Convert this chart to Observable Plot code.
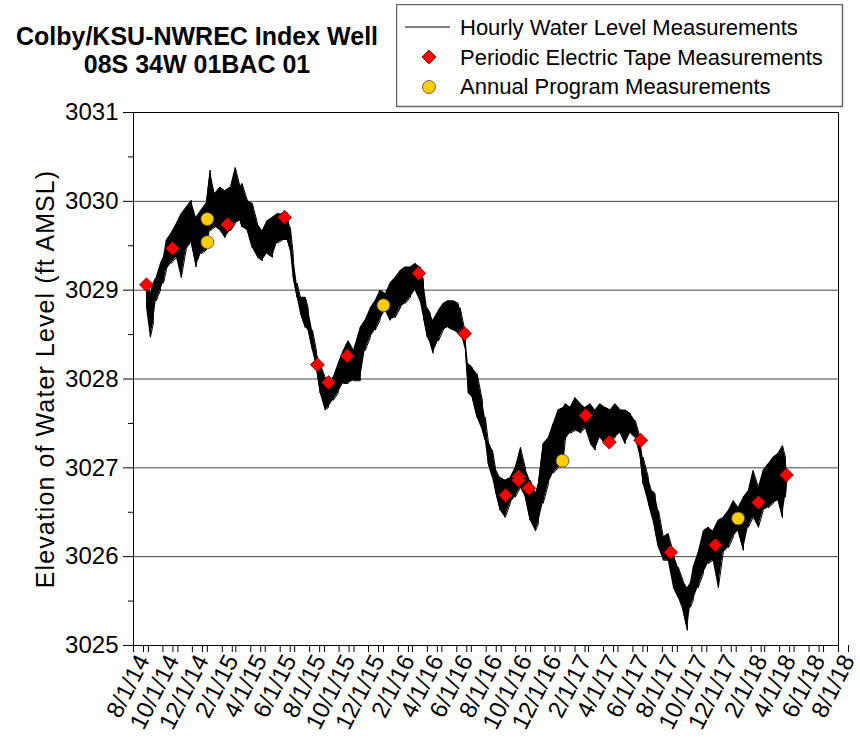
<!DOCTYPE html>
<html><head><meta charset="utf-8">
<script src="https://cdn.jsdelivr.net/npm/d3@7"></script>
<script src="https://cdn.jsdelivr.net/npm/@observablehq/plot@0.6"></script>
<style>
body{margin:0;background:#fff;}
#wrap{position:relative;width:860px;height:740px;font-family:Arial,"Liberation Sans",sans-serif;}
#chart{position:absolute;left:0;top:0;}
#title{position:absolute;left:0;width:394px;top:22px;text-align:center;font-weight:bold;font-size:25px;line-height:28px;color:#000;}
#legend{position:absolute;left:396px;top:4px;}
</style>
</head><body>
<div id="wrap">
  <div id="chart"></div>
  <div id="title">Colby/KSU-NWREC Index Well<br>08S 34W 01BAC 01</div>
  <svg id="legend" width="448" height="104"></svg>
</div>
<script>
const chartTitle = ["Colby/KSU-NWREC Index Well", "08S 34W 01BAC 01"];
const yLabel = "Elevation of Water Level (ft AMSL)";
const legendLabels = ["Hourly Water Level Measurements", "Periodic Electric Tape Measurements", "Annual Program Measurements"];

const hourlyDates = [
"2014-08-28","2014-09-05","2014-09-11","2014-09-17","2014-09-26","2014-10-02","2014-10-08","2014-10-18","2014-10-29","2014-11-08","2014-11-18","2014-11-29","2014-12-09","2014-12-19","2014-12-30",
"2015-01-07","2015-01-17","2015-01-28","2015-02-07","2015-02-18","2015-02-28","2015-03-10","2015-03-14","2015-03-25","2015-04-04","2015-04-15","2015-04-25","2015-05-05","2015-05-16","2015-05-26","2015-06-05","2015-06-16","2015-06-22","2015-06-28","2015-07-06","2015-07-13","2015-07-23","2015-07-29","2015-08-07","2015-08-15","2015-08-23","2015-09-02","2015-09-09","2015-09-19","2015-09-29","2015-10-10","2015-10-20","2015-10-31","2015-11-14","2015-11-24","2015-12-05","2015-12-15","2015-12-25",
"2016-01-05","2016-01-15","2016-01-25","2016-02-05","2016-02-15","2016-02-26","2016-03-07","2016-03-17","2016-03-24","2016-04-01","2016-04-07","2016-04-13","2016-04-24","2016-05-04","2016-05-14","2016-05-25","2016-06-04","2016-06-08","2016-06-19","2016-06-25","2016-07-03","2016-07-13","2016-07-24","2016-07-30","2016-08-05","2016-08-14","2016-08-20","2016-08-30","2016-09-09","2016-09-20","2016-09-30","2016-10-11","2016-10-21","2016-10-31","2016-11-11","2016-11-17","2016-11-27","2016-12-08","2016-12-18","2016-12-28",
"2017-01-08","2017-01-12","2017-01-22","2017-02-01","2017-02-12","2017-02-22","2017-03-05","2017-03-15","2017-03-25","2017-04-05","2017-04-15","2017-04-25","2017-05-06","2017-05-16","2017-05-27","2017-06-06","2017-06-16","2017-06-22","2017-07-03","2017-07-11","2017-07-17","2017-07-24","2017-08-03","2017-08-13","2017-08-24","2017-09-03","2017-09-13","2017-09-22","2017-09-28","2017-10-04","2017-10-14","2017-10-25","2017-11-04","2017-11-14","2017-11-25","2017-12-05","2017-12-16","2017-12-26",
"2018-01-05","2018-01-16","2018-01-26","2018-02-05","2018-02-16","2018-02-26","2018-03-09","2018-03-19","2018-03-29","2018-04-07","2018-04-13","2018-04-17"];

const hourlyHigh = [
3029.08,3028.96,3029.08,3029.14,3029.30,3029.37,3029.56,3029.64,3029.75,3029.86,3029.93,3030.01,3029.82,3029.90,3029.98,
3030.35,3030.09,3030.16,3030.12,3030.16,3030.38,3030.16,3030.20,3030.01,3029.98,3029.75,3029.67,3029.78,3029.82,3029.86,3029.86,3029.87,3029.71,3029.41,3029.08,3028.92,3028.92,3028.80,3028.55,3028.32,3028.17,3028.02,3027.98,3028.02,3028.17,3028.32,3028.43,3028.32,3028.58,3028.66,3028.80,3028.88,3029.00,
3028.96,3029.08,3029.14,3029.22,3029.26,3029.26,3029.30,3029.26,3029.11,3028.80,3028.74,3028.66,3028.77,3028.85,3028.88,3028.88,3028.85,3028.80,3028.51,3028.17,3028.13,3028.06,3027.76,3027.57,3027.31,3027.20,3027.00,3026.89,3026.86,3026.89,3027.00,3027.23,3027.00,3026.86,3026.71,3026.82,3027.27,3027.34,3027.50,3027.65,
3027.68,3027.72,3027.68,3027.79,3027.72,3027.68,3027.72,3027.65,3027.72,3027.68,3027.65,3027.72,3027.65,3027.65,3027.61,3027.53,3027.34,3027.12,3026.89,3026.74,3026.71,3026.52,3026.22,3026.26,3026.04,3025.88,3025.73,3025.65,3025.70,3025.88,3026.04,3026.29,3026.33,3026.29,3026.41,3026.44,3026.52,3026.63,
3026.55,3026.67,3026.74,3026.97,3026.78,3026.97,3027.05,3027.12,3027.16,3027.25,3027.12,3026.97];

const hourlyLow = [
3028.80,3028.47,3028.62,3028.88,3029.00,3029.08,3029.22,3029.30,3029.37,3029.14,3029.45,3029.53,3029.26,3029.41,3029.45,
3029.67,3029.71,3029.67,3029.59,3029.67,3029.75,3029.78,3029.71,3029.67,3029.48,3029.37,3029.33,3029.41,3029.37,3029.53,3029.56,3029.56,3029.45,3029.14,3028.92,3028.74,3028.58,3028.55,3028.32,3028.13,3027.84,3027.65,3027.68,3027.76,3027.84,3027.95,3027.95,3027.98,3027.98,3028.32,3028.47,3028.55,3028.66,
3028.77,3028.66,3028.69,3028.80,3028.85,3028.92,3029.00,3028.88,3028.69,3028.47,3028.40,3028.29,3028.43,3028.55,3028.58,3028.55,3028.51,3028.55,3028.32,3027.84,3027.79,3027.57,3027.42,3027.31,3027.05,3026.89,3026.74,3026.52,3026.44,3026.60,3026.67,3026.78,3026.67,3026.41,3026.29,3026.37,3026.60,3026.82,3026.94,3027.00,
3027.12,3027.31,3027.39,3027.42,3027.39,3027.45,3027.27,3027.20,3027.34,3027.27,3027.27,3027.34,3027.39,3027.27,3027.39,3027.34,3027.12,3026.82,3026.60,3026.44,3026.29,3026.10,3025.96,3025.96,3025.65,3025.54,3025.39,3025.17,3025.43,3025.51,3025.65,3025.81,3025.92,3025.96,3025.65,3026.04,3026.10,3026.22,
3026.29,3026.07,3026.33,3026.44,3026.33,3026.52,3026.55,3026.60,3026.63,3026.44,3026.67,3026.91];

const tapeDates = ["2014-08-28","2014-10-21","2015-02-12","2015-06-10","2015-08-17","2015-09-09","2015-10-18","2016-03-14","2016-06-17","2016-09-10","2016-10-07","2016-10-07","2016-10-28","2017-02-23","2017-04-13","2017-06-17","2017-08-18","2017-11-19","2018-02-16","2018-04-15"];
const tapeLevels = [3029.06,3029.47,3029.74,3029.82,3028.16,3027.96,3028.26,3029.19,3028.51,3026.69,3026.90,3026.86,3026.77,3027.59,3027.29,3027.31,3026.05,3026.13,3026.61,3026.92];

const annualDates = ["2015-01-01","2015-01-01","2016-01-01","2017-01-06","2018-01-05"];
const annualLevels = [3029.80,3029.54,3028.83,3027.08,3026.43];

const xLabelDates = ["2014-08-01","2014-10-01","2014-12-01","2015-02-01","2015-04-01","2015-06-01","2015-08-01","2015-10-01","2015-12-01","2016-02-01","2016-04-01","2016-06-01","2016-08-01","2016-10-01","2016-12-01","2017-02-01","2017-04-01","2017-06-01","2017-08-01","2017-10-01","2017-12-01","2018-02-01","2018-04-01","2018-06-01","2018-08-01"];
const yTicks = [3025,3026,3027,3028,3029,3030,3031];
const yMinorTicks = [3025.5,3026.5,3027.5,3028.5,3029.5,3030.5];

const parse = s => new Date(s + "T00:00:00Z");
const hourly = hourlyDates.map((d, i) => ({date: parse(d), lo: hourlyLow[i], hi: hourlyHigh[i]}));
const zig = [];
hourly.forEach((r, i) => {
  if (i % 2 === 0) { zig.push({date: r.date, v: r.lo}); zig.push({date: r.date, v: r.hi}); }
  else { zig.push({date: r.date, v: r.hi}); zig.push({date: r.date, v: r.lo}); }
});
const tape = tapeDates.map((d, i) => ({date: parse(d), v: tapeLevels[i]}));
const annual = annualDates.map((d, i) => ({date: parse(d), v: annualLevels[i]}));
const xStart = parse(xLabelDates[0]), xEnd = parse(xLabelDates[xLabelDates.length - 1]);
const xMonthly = d3.utcMonth.range(xStart, d3.utcDay.offset(xEnd, 1));
const fmt = d => `${d.getUTCMonth() + 1}/${d.getUTCDate()}/${String(d.getUTCFullYear()).slice(2)}`;
const font = 'Arial, "Liberation Sans", sans-serif';

const chart = Plot.plot({
  width: 860, height: 740,
  marginTop: 112, marginLeft: 133, marginRight: 22, marginBottom: 95,
  style: {fontFamily: font, fontSize: "24px", color: "#000", background: "transparent", overflow: "visible"},
  x: {type: "utc", domain: [xStart, xEnd]},
  y: {domain: [3025, 3031]},
  marks: [
    Plot.gridY(yTicks.slice(1, -1), {stroke: "#444", strokeOpacity: 1, strokeWidth: 1}),
    Plot.areaY(hourly, {x: "date", y1: "lo", y2: "hi", fill: "#000"}),
    Plot.line(zig, {x: "date", y: "v", stroke: "#000", strokeWidth: 1}),
    Plot.frame({stroke: "#000", strokeWidth: 1}),
    Plot.axisY(yTicks, {tickSize: 10, tickPadding: 5, fontSize: 24, tickFormat: d => String(d),
      label: yLabel, labelAnchor: "center", labelOffset: 97, labelArrow: "none"}),
    Plot.axisY(yMinorTicks, {tickSize: 5, tickFormat: () => "", label: null}),
    Plot.axisX(xMonthly, {tickSize: 7, tickFormat: () => "", label: null}),
    Plot.axisX(xLabelDates.map(parse), {tickSize: 7, tickPadding: 4, tickRotate: -63, fontSize: 24, tickFormat: fmt, label: null, dx: 10}),
    Plot.dot(tape, {x: "date", y: "v", symbol: "diamond2", r: 6.3, fill: "#ff0000", stroke: "#5a0000", strokeWidth: 0.8}),
    Plot.dot(annual, {x: "date", y: "v", symbol: "circle", r: 6.5, fill: "#ffcc00", stroke: "#444", strokeWidth: 0.8})
  ]
});
document.getElementById("chart").appendChild(chart);
d3.select(chart).selectAll('g[aria-label="y-axis label"] text').style("font-size", "25px").style("letter-spacing", "1.1px");

// legend
const lg = d3.select("#legend");
lg.append("rect").attr("x", 0.5).attr("y", 0.5).attr("width", 446).attr("height", 102).attr("fill", "#fff").attr("stroke", "#666").attr("stroke-width", 1.5);
lg.append("line").attr("x1", 9).attr("x2", 54).attr("y1", 23).attr("y2", 23).attr("stroke", "#000").attr("stroke-width", 1);
lg.append("path").attr("d", d3.symbol(d3.symbolDiamond2, Math.PI * 6.3 * 6.3)()).attr("transform", "translate(33,53)").attr("fill", "#ff0000").attr("stroke", "#5a0000").attr("stroke-width", 0.8);
lg.append("circle").attr("cx", 33).attr("cy", 83).attr("r", 6.5).attr("fill", "#ffcc00").attr("stroke", "#444").attr("stroke-width", 0.8);
legendLabels.forEach((t, i) => {
  lg.append("text").attr("x", 64).attr("y", 31 + i * 29.5).attr("font-family", font).attr("font-size", 22).attr("fill", "#000").text(t);
});
</script>
</body></html>
